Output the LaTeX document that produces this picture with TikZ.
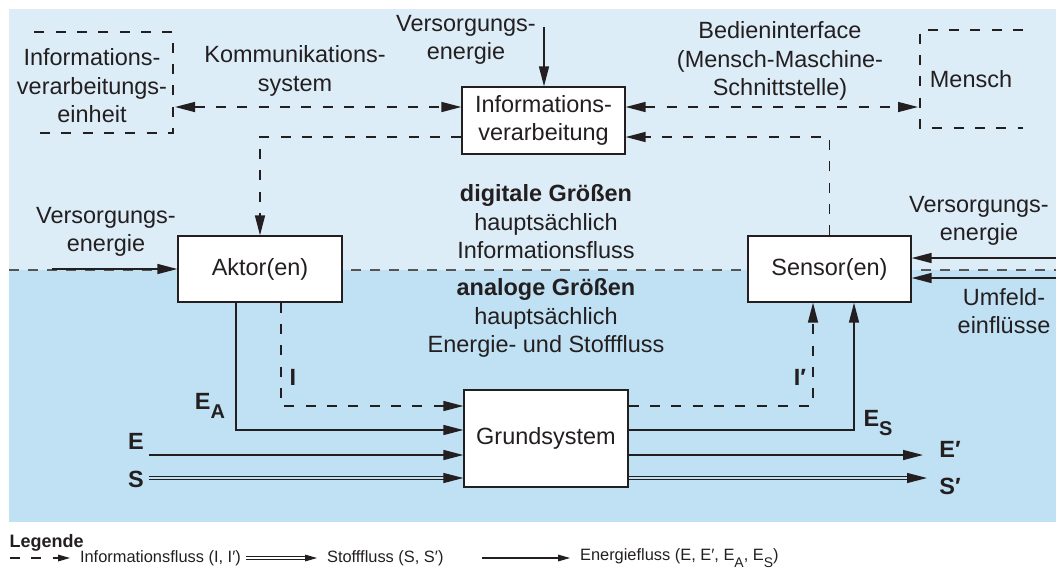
\documentclass[tikz,border=0pt]{standalone}
\usepackage{fontspec}
\setmainfont{Liberation Sans}
\usetikzlibrary{arrows.meta,calc,positioning}

\definecolor{bgoben}{RGB}{221,237,248}
\definecolor{bgunten}{RGB}{192,225,244}
\definecolor{linie}{RGB}{35,31,32}
\definecolor{trenn}{RGB}{85,85,85}

\newcommand{\tief}[1]{\raisebox{-0.75ex}{\scalebox{0.85}{#1}}}

\tikzset{every picture/.style={line width=1.1pt}}
\tikzset{
  kasten/.style={draw=linie, fill=white, line width=1pt, inner sep=0pt, align=center, text=linie, font=\fontsize{17.6}{21.4}\selectfont},
  txt/.style={inner sep=0pt, align=center, text=linie, font=\fontsize{17.6}{21.4}\selectfont},
  sym/.style={inner sep=0pt, text=linie, font=\fontsize{17.6}{21}\selectfont\bfseries},
  trennlinie/.style={draw=trenn, line width=1pt, dash pattern=on 7.5pt off 6.75pt},
  info/.style={draw=linie, dash pattern=on 7.5pt off 8.5pt},
  energie/.style={draw=linie},
  stoff/.style={draw=linie, line width=0.9pt, double=bgunten, double distance=1.3pt},
  legtxt/.style={inner xsep=7pt, inner ysep=0pt, text=linie, font=\fontsize{12.3}{14}\selectfont},
  legtitel/.style={inner sep=0pt, text=linie, font=\fontsize{13.5}{15}\selectfont\bfseries},
  legpfeil/.style={draw=linie, line width=0.8pt, -{Triangle[length=9pt,width=5pt]}},
}

\begin{document}
\begin{tikzpicture}[x=0.75pt,y=0.75pt,yscale=-1,xscale=1,>={Triangle[length=15pt,width=7.5pt]}]
	\useasboundingbox (0,0) rectangle (1056,576);

	%Shape: Hintergrund digital / analog
	\fill[bgoben] (9,9) rectangle (1056,270);
	\fill[bgunten] (9,270) rectangle (1056,522);
	%Straight Lines: Trennlinie
	\draw[trennlinie] (9,270) -- (1056,270);

	% Kaesten
	\node[kasten, minimum width=122.25pt, minimum height=50.25pt] (iv) at (543.5,120.5) {Informations-\\verarbeitung};
	\node[kasten, minimum width=123pt, minimum height=49.5pt] (aktor) at (260,269) {Aktor(en)};
	\node[kasten, minimum width=122.25pt, minimum height=49.5pt] (sensor) at (829.5,269) {Sensor(en)};
	\node[kasten, minimum width=123pt, minimum height=72.75pt] (grund) at (546,438.5) {Grundsystem};

	% Text Node
	\node[txt] (einheit) at (92,86) {Informations-\\verarbeitungs-\\einheit};
	\node[txt] (komm) at (295,71) {Kommunikations-\\system};
	\node[txt] (versIV) at (466,40) {Versorgungs-\\energie};
	\node[txt] (bedien) at (780,61) {Bedieninterface\\(Mensch-Maschine-\\Schnittstelle)};
	\node[txt] (mensch) at (971,79) {Mensch};
	\node[txt] (versA) at (106,232) {Versorgungs-\\energie};
	\node[txt] (versS) at (979,221) {Versorgungs-\\energie};
	\node[txt] (umfeld) at (1004,311) {Umfeld-\\einflüsse};
	\node[txt] (digital) at (546,222) {\textbf{digitale Größen}\\hauptsächlich\\Informationsfluss};
	\node[txt] (analog) at (546,318) {\textbf{analoge Größen}\\hauptsächlich\\Energie- und Stofffluss};

	%Shape: offene Rahmen
	\draw[info] (40,133) -- (173,133) -- (173,32) -- (33,32);
	\draw[info] (1023,30) -- (920,30) -- (920,128) -- (1023,128);
	\coordinate (einheitR) at (175,107);
	\coordinate (menschL) at (918,107);

	% Informationsfluss
	\draw[info,<->] (einheitR) -- (einheitR -| iv.west);
	\draw[info,<->] (menschL -| iv.east) -- (menschL);
	\draw[info,->] ($(iv.west)+(0,16.5)$) -| (aktor.north);
	\draw[info,->] (sensor.north) |- ($(iv.east)+(0,16.5)$);
	\draw[info,->] ($(aktor.south)+(21,0)$) |- ($(grund.west)+(0,-32.5)$);
	\draw[info,->] ($(grund.east)+(0,-32.5)$) -| ($(sensor.south)+(-16.5,0)$);

	% Energiefluss
	\coordinate (versIVan) at (544,27);
	\coordinate (versAan) at (52,269);
	\coordinate (versSan) at (1056,258);
	\coordinate (umfeldan) at (1056,278);
	\draw[energie,->] (versIVan) -- (versIVan |- iv.north);
	\draw[energie,->] (versAan) -- (aktor.west);
	\draw[energie,->] (versSan) -- (versSan -| sensor.east);
	\draw[energie,->] (umfeldan) -- (umfeldan -| sensor.east);
	\draw[energie,->] ($(aktor.south)+(-24,0)$) |- ($(grund.west)+(0,-8.5)$);
	\draw[energie,->] ($(grund.east)+(0,-8.5)$) -| ($(sensor.south)+(24.5,0)$);

	% Ein- und Ausgaenge
	\coordinate (ein) at (149,455);
	\coordinate (sin) at (149,478);
	\coordinate (eaus) at (923,455);
	\coordinate (saus) at (927,478);
	\draw[energie,->] (ein) -- (ein -| grund.west);
	\draw[stoff,->] (sin) -- (sin -| grund.west);
	\draw[energie,->] (eaus -| grund.east) -- (eaus);
	\draw[stoff,->] (saus -| grund.east) -- (saus);

	% Symbole
	\node[sym] (labI) at (293,377) {I};
	\node[sym] (labIs) at (800,377) {I′};
	\node[sym] (labEA) at (210,406) {E\tief{A}};
	\node[sym] (labES) at (878,423) {E\tief{S}};
	\node[sym] (labE) at (136,441) {E};
	\node[sym] (labS) at (136,479) {S};
	\node[sym] (labEs) at (950,449) {E′};
	\node[sym] (labSs) at (950,486) {S′};

	% Legende
	\node[legtitel, anchor=west] (legende) at (9,543) {Legende};
	\coordinate (legA) at (10,558);
	\coordinate (legB) at (246,558);
	\coordinate (legC) at (482,558);
	\node[legtxt, anchor=west] (legInfo) at (70,558) {Informationsfluss (I, I′)};
	\node[legtxt, anchor=west] (legStoff) at (317,558) {Stofffluss (S, S′)};
	\node[legtxt, anchor=west] (legEnergie) at (570,558) {Energiefluss (E, E′, E\tief{A}, E\tief{S})};
	\draw[legpfeil, dash pattern=on 7.5pt off 8.5pt] (legA) -- (legInfo.west);
	\draw[legpfeil, line width=0.7pt, double=white, double distance=1.2pt] (legB) -- (legStoff.west);
	\draw[legpfeil] (legC) -- (legEnergie.west);
\end{tikzpicture}
\end{document}
